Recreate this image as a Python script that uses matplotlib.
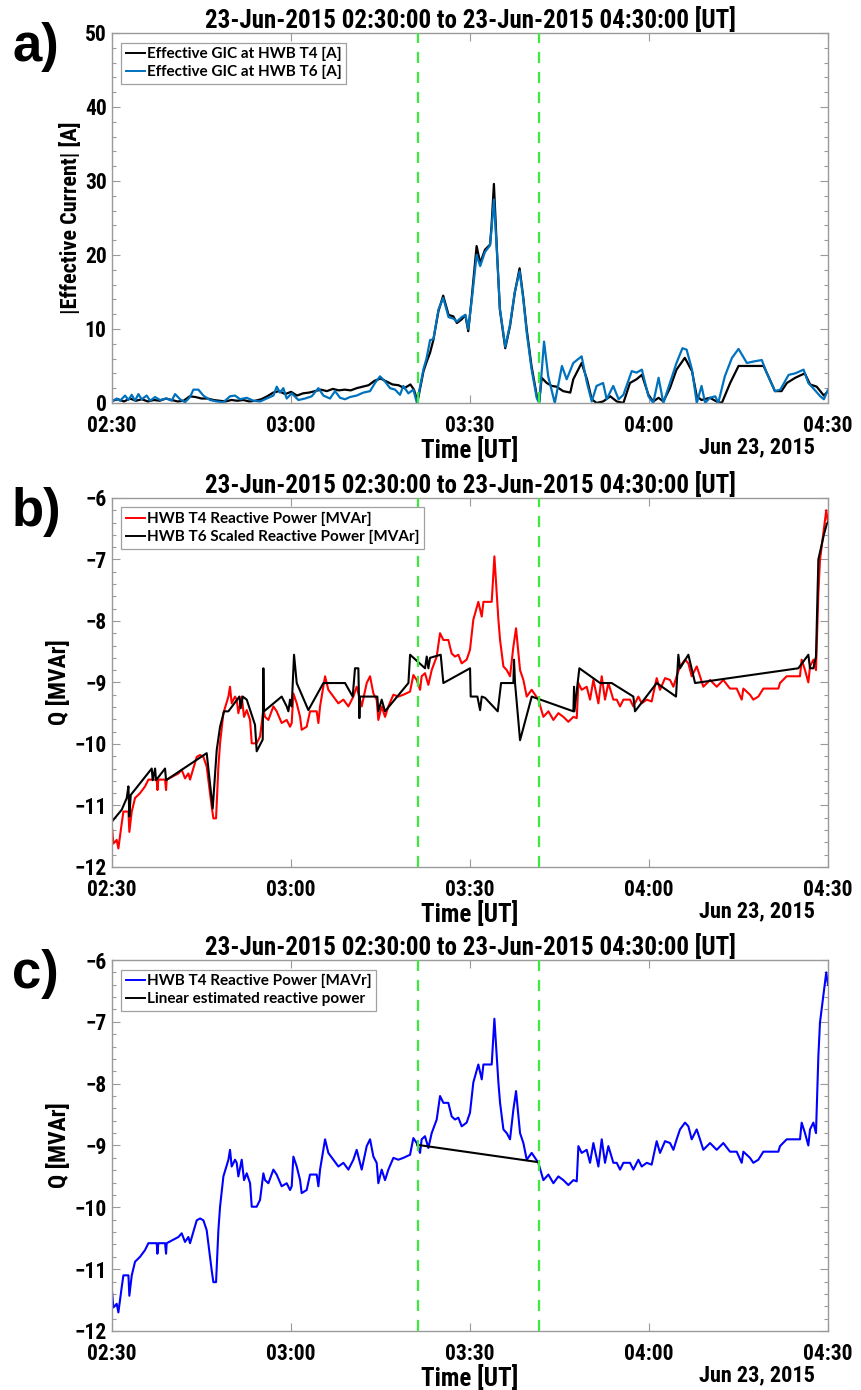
import matplotlib
matplotlib.use("Agg")
import matplotlib.pyplot as plt
import matplotlib.dates as mdates
from matplotlib import font_manager
from matplotlib.ticker import MultipleLocator
import pandas as pd

# --- fonts -----------------------------------------------------------------
_installed = {f.name for f in font_manager.fontManager.ttflist}
NARROW = next((f for f in ["Liberation Sans Narrow", "Roboto Condensed", "Roboto"] if f in _installed), "DejaVu Sans")
LEGEND_FONT = next((f for f in ["Lato", "Open Sans", "Noto Sans"] if f in _installed), "DejaVu Sans")
LETTER_FONT = "Liberation Sans" if "Liberation Sans" in _installed else "DejaVu Sans"

# --- data: minutes after 23-Jun-2015 02:30 UT ------------------------------
START = pd.Timestamp("2015-06-23 02:30:00")
END = pd.Timestamp("2015-06-23 04:30:00")
event_min = [51.25, 71.57]

gic_t4_min = [0, 1, 2, 3, 4, 5, 6, 7, 8, 9, 10, 11, 12, 13, 14, 15, 16, 17, 18, 19, 20, 21, 22, 23, 24,
              25, 26, 27, 28, 29, 30, 31, 32, 33, 34, 35, 36, 37, 38, 39, 40, 41, 42, 43, 44, 45, 46, 47,
              48, 49, 50, 50.6, 51.2, 52.2, 52.7, 53.3, 53.85, 54.7, 55.5, 56.4, 57.2, 57.8, 58.6, 59.2,
              59.7, 60.3, 61.1, 61.7, 62.5, 63.35, 63.6, 64.0, 64.5, 65.0, 65.9, 66.7, 67.5, 68.3, 68.9,
              69.5, 70.3, 71.2, 71.6, 72.0, 72.85, 73.7, 74.5, 75.6, 76.8, 77.3, 78.7, 79.6, 80.4, 81.2,
              82.3, 83.5, 84.6, 85.7, 86.8, 87.9, 88.8, 89.9, 90.7, 91.6, 92.4, 93.5, 94.6, 96.0, 97.2,
              98.0, 98.8, 100.2, 101.3, 102.2, 103.6, 105.0, 106.4, 109.2, 110.0, 111.1, 112.2, 113.1,
              114.5, 116.1, 117.0, 118.1, 119.3, 120.0]
gic_t4_amp = [0.3, 0.5, 0.2, 0.6, 0.3, 0.5, 0.2, 0.4, 0.3, 0.6, 0.4, 0.2, 0.3, 0.9, 0.8, 0.6, 0.6, 0.4,
              0.3, 0.2, 0.4, 0.3, 0.4, 0.2, 0.3, 0.5, 0.9, 1.4, 1.6, 1.2, 1.5, 1.0, 1.3, 1.4, 1.6, 1.8,
              1.6, 1.9, 1.7, 1.8, 1.7, 2.0, 2.2, 2.4, 3.0, 3.3, 2.9, 2.5, 2.4, 2.0, 2.5, 1.8, 0.2, 4.3,
              5.5, 6.8, 8.5, 12.4, 14.5, 11.9, 11.7, 10.8, 11.3, 11.9, 9.7, 14.4, 21.2, 18.9, 20.7, 21.4,
              23.9, 29.6, 20.7, 12.6, 7.4, 10.4, 14.9, 18.2, 14.4, 9.9, 5.0, 0.9, 0.2, 3.4, 2.7, 2.3,
              2.2, 1.6, 1.4, 3.2, 5.4, 3.2, 0.5, 0.0, 0.2, 0.9, 0.2, 0.0, 2.7, 3.2, 3.8, 1.1, 0.2, 0.7,
              0.2, 2.0, 4.5, 6.1, 4.3, 0.9, 0.4, 0.7, 0.2, 0.0, 2.7, 5.0, 5.0, 5.0, 3.6, 1.6, 1.6, 2.7,
              3.4, 4.0, 2.5, 2.2, 1.0, 1.6]

gic_t6_min = [0, 0.78, 1.34, 2.18, 2.74, 3.3, 3.85, 4.41, 4.97, 5.81, 6.37, 7.2, 8.04, 9.16, 10.0, 10.56,
              11.4, 12.23, 13.07, 13.63, 14.47, 15.3, 16.42, 17.54, 18.66, 19.77, 20.61, 21.45, 22.57,
              23.69, 24.8, 25.92, 27.04, 27.6, 28.15, 28.71, 29.27, 30.11, 31.23, 32.34, 33.46, 34.58,
              35.42, 36.53, 37.37, 38.21, 39.05, 39.88, 41.0, 42.12, 43.24, 44.07, 44.91, 45.75, 46.59,
              47.43, 48.26, 48.82, 49.66, 50.5, 51.1, 52.2, 52.7, 53.3, 53.85, 54.7, 55.5, 56.4, 57.2,
              57.8, 58.6, 59.2, 59.7, 60.3, 61.1, 61.7, 62.5, 63.35, 63.6, 64.0, 64.5, 65.0, 65.9, 66.7,
              67.5, 68.3, 68.9, 69.5, 70.3, 71.2, 71.6, 72.4, 73.1, 74.2, 75.4, 76.2, 77.3, 78.7, 79.6,
              80.4, 81.2, 82.3, 82.9, 84.0, 84.9, 85.7, 87.1, 87.9, 88.8, 89.9, 90.7, 91.6, 92.4, 93.5,
              94.6, 95.6, 96.3, 97.2, 98.0, 98.8, 99.4, 100.2, 101.1, 101.6, 102.7, 103.9, 105.0, 106.4,
              107.5, 108.9, 109.7, 111.1, 112.0, 113.4, 114.5, 115.9, 116.7, 117.5, 118.7, 119.3, 120.0]
gic_t6_amp = [0.2, 0.6, 0.3, 1.0, 0.4, 1.1, 0.3, 1.2, 0.5, 1.0, 0.3, 0.8, 0.4, 0.6, 0.3, 1.2, 0.5, 0.1,
              0.8, 1.8, 1.8, 1.0, 0.4, 0.2, 0.1, 0.9, 1.0, 0.5, 0.7, 0.3, 0.2, 0.6, 1.0, 2.2, 1.4, 2.0,
              0.6, 1.3, 0.4, 0.6, 0.9, 2.0, 1.0, 0.6, 1.6, 0.7, 0.5, 0.8, 1.0, 1.4, 1.6, 2.7, 3.6, 2.9,
              2.0, 1.8, 1.1, 2.3, 1.3, 1.8, 0.0, 4.6, 6.0, 8.5, 8.6, 12.6, 14.2, 11.6, 11.4, 11.0, 11.6,
              11.9, 10.0, 14.0, 20.0, 18.5, 20.4, 21.3, 23.5, 27.5, 20.5, 12.8, 7.6, 10.6, 15.0, 17.8,
              14.2, 9.5, 4.6, 0.6, 0.0, 8.3, 3.6, 0.0, 5.0, 3.2, 5.4, 6.3, 2.7, 0.2, 2.3, 2.7, 0.5, 2.3,
              0.5, 1.1, 4.3, 4.1, 4.5, 0.9, 0.0, 3.4, 0.0, 2.7, 5.4, 7.4, 7.2, 4.5, 0.0, 2.3, 0.0, 0.7,
              0.9, 0.0, 3.6, 6.1, 7.3, 5.4, 5.6, 5.8, 4.1, 1.6, 1.8, 3.8, 4.0, 4.5, 2.7, 2.0, 0.9, 0.5,
              1.8]

q_t4_min = [0.0, 0.22, 0.78, 1.06, 1.62, 1.90, 2.74, 2.90, 3.30, 3.85, 4.69, 5.53, 6.09, 7.49, 7.60,
            7.76, 8.88, 9.05, 9.16, 11.12, 11.67, 12.23, 12.79, 13.07, 14.19, 14.75, 15.31, 15.86,
            16.70, 16.98, 17.43, 17.82, 18.10, 18.66, 19.50, 19.77, 20.05, 20.61, 20.89, 21.17, 21.73,
            22.12, 22.57, 23.13, 23.41, 24.24, 24.80, 25.36, 25.64, 26.20, 27.04, 27.59, 28.43, 29.27,
            29.83, 30.11, 30.39, 30.95, 31.51, 31.78, 32.62, 33.18, 34.30, 34.58, 34.86, 35.70, 36.25,
            37.09, 37.93, 38.77, 39.61, 40.44, 41.00, 41.84, 42.68, 43.24, 43.80, 44.35, 44.63, 45.19,
            45.75, 46.31, 47.15, 47.98, 48.82, 49.94, 50.50, 51.06, 51.62, 51.89, 52.45, 53.01, 53.57,
            54.41, 54.97, 55.53, 56.36, 56.92, 57.48, 58.04, 58.60, 59.43, 59.99, 60.55, 61.39, 61.96,
            62.24, 63.63, 64.08, 64.75, 65.03, 65.59, 66.15, 66.70, 67.26, 67.71, 68.38, 68.94, 69.50,
            70.33, 71.45, 72.29, 73.13, 73.97, 74.80, 75.64, 76.48, 77.32, 77.88, 78.16, 78.71, 79.55,
            80.11, 80.67, 81.51, 82.07, 82.62, 83.18, 84.02, 84.58, 85.14, 85.70, 86.81, 87.37, 88.21,
            88.77, 89.61, 90.44, 91.28, 91.84, 92.68, 93.52, 94.08, 94.63, 95.19, 96.03, 96.59, 97.15,
            97.99, 98.54, 99.10, 100.22, 101.34, 102.45, 103.57, 104.69, 105.53, 105.81, 106.92, 107.48,
            108.32, 109.16, 110.27, 111.67, 111.95, 113.07, 115.30, 115.58, 116.14, 116.70, 116.98,
            117.54, 117.98, 118.38, 118.65, 119.30, 119.70, 120.0]
q_t4_mvar = [-11.37, -11.62, -11.56, -11.70, -11.29, -11.10, -11.10, -11.43, -11.10, -10.88, -10.80,
             -10.69, -10.58, -10.58, -10.75, -10.58, -10.58, -10.75, -10.58, -10.48, -10.42, -10.56,
             -10.48, -10.58, -10.21, -10.18, -10.21, -10.37, -11.02, -11.21, -11.21, -10.37, -9.99,
             -9.50, -9.23, -9.07, -9.34, -9.23, -9.28, -9.50, -9.23, -9.56, -9.45, -9.61, -9.99, -9.99,
             -9.88, -9.45, -9.56, -9.61, -9.39, -9.47, -9.66, -9.61, -9.72, -9.66, -9.18, -9.34, -9.56,
             -9.77, -9.72, -9.47, -9.47, -9.66, -9.39, -8.90, -9.12, -9.23, -9.34, -9.28, -9.39, -9.23,
             -9.07, -9.39, -9.01, -8.90, -9.18, -9.28, -9.61, -9.39, -9.56, -9.39, -9.20, -9.23, -9.20,
             -9.15, -8.88, -8.96, -9.12, -8.90, -8.85, -9.04, -8.80, -8.58, -8.20, -8.31, -8.31, -8.53,
             -8.58, -8.55, -8.69, -8.63, -8.47, -7.98, -7.69, -7.93, -7.69, -7.69, -6.95, -7.98, -8.31,
             -8.74, -8.80, -8.90, -8.42, -8.12, -8.80, -8.96, -9.23, -9.12, -9.28, -9.56, -9.47, -9.61,
             -9.50, -9.56, -9.64, -9.56, -9.58, -9.01, -9.12, -9.07, -9.28, -8.96, -9.34, -8.90, -9.28,
             -9.01, -9.28, -9.28, -9.39, -9.28, -9.28, -9.39, -9.23, -9.34, -9.28, -9.31, -8.93, -9.12,
             -8.93, -8.96, -9.07, -8.90, -8.74, -8.63, -8.69, -8.90, -8.74, -8.90, -9.07, -8.96, -9.07,
             -8.96, -9.10, -9.10, -9.28, -9.10, -9.20, -9.28, -9.23, -9.10, -9.10, -9.10, -9.01, -8.90,
             -8.90, -8.63, -8.80, -9.00, -8.74, -8.63, -8.80, -7.55, -7.01, -6.50, -6.20, -6.40]

q_t6_min = [0.0, 1.62, 2.46, 2.74, 2.90, 3.13, 6.65, 6.81, 7.21, 7.37, 8.88, 9.05, 15.86, 16.87, 17.54,
            18.10, 18.77, 19.50, 21.34, 21.56, 21.90, 22.57, 23.96, 24.24, 25.25, 25.36, 25.47, 28.43,
            29.27, 29.55, 29.83, 30.11, 30.50, 30.95, 32.90, 35.42, 39.05, 40.33, 40.72, 41.28, 41.45,
            41.56, 44.46, 44.63, 45.19, 45.75, 49.67, 49.95, 52.46, 52.74, 53.02, 53.29, 55.08, 55.53,
            60.00, 60.11, 61.23, 61.68, 61.96, 62.51, 64.64, 65.20, 67.26, 67.37, 67.54, 68.38, 70.34,
            77.32, 77.43, 77.49, 78.32, 81.79, 83.74, 87.37, 87.65, 91.28, 94.52, 94.91, 95.19, 96.59,
            97.71, 115.02, 116.70, 116.98, 117.54, 117.98, 118.38, 119.30, 119.80, 120.0]
q_t6_mvar = [-11.26, -11.07, -10.88, -10.69, -11.18, -10.83, -10.40, -10.59, -10.40, -10.59, -10.40,
             -10.59, -10.15, -11.05, -10.10, -9.72, -9.47, -9.47, -9.23, -9.42, -9.23, -9.28, -9.69,
             -10.12, -9.93, -8.77, -9.47, -9.23, -9.39, -9.47, -9.28, -9.39, -8.55, -9.01, -9.45, -9.01,
             -9.01, -9.23, -8.77, -8.77, -9.58, -9.23, -9.23, -9.47, -9.28, -9.47, -9.01, -8.55, -8.77,
             -8.58, -8.77, -8.60, -8.55, -9.01, -8.77, -9.23, -9.23, -9.45, -9.23, -9.25, -9.47, -9.01,
             -9.01, -8.63, -9.01, -9.94, -9.23, -9.47, -9.07, -9.47, -8.77, -9.01, -9.01, -9.23, -9.47,
             -9.01, -9.23, -8.55, -8.77, -8.55, -9.01, -8.77, -8.55, -8.77, -8.77, -8.58, -7.00, -6.60,
             -6.42, -6.40]

q_lin_min = [51.2, 71.5]
q_lin_mvar = [-8.99, -9.27]

TITLE = "23-Jun-2015 02:30:00 to 23-Jun-2015 04:30:00 [UT]"

AXIS_GREY = "#9a9a9a"
EVENT_GREEN = "#3ee83e"


def to_time(minutes):
    return START + pd.to_timedelta(minutes, unit="min")


def style_axes(ax, ylim, major, minor):
    ax.set_xlim(START, END)
    ax.set_ylim(*ylim)
    ax.xaxis.set_major_locator(mdates.MinuteLocator(byminute=[0, 30]))
    ax.xaxis.set_major_formatter(mdates.DateFormatter("%H:%M"))
    ax.yaxis.set_major_locator(MultipleLocator(major))
    ax.yaxis.set_minor_locator(MultipleLocator(minor))
    ax.tick_params(which="both", direction="in", top=True, right=True, color=AXIS_GREY)
    ax.tick_params(which="major", length=5.5, width=0.8)
    ax.tick_params(which="minor", length=3.2, width=0.8)
    ax.tick_params(axis="x", pad=9)
    ax.tick_params(axis="y", pad=4)
    for lab in ax.get_xticklabels() + ax.get_yticklabels():
        lab.set_fontfamily(NARROW)
        lab.set_fontweight("bold")
        lab.set_fontsize(15.5)
    for sp in ax.spines.values():
        sp.set_color(AXIS_GREY)
        sp.set_linewidth(1.0)
    ax.set_title(TITLE, fontfamily=NARROW, fontweight="bold", fontsize=18, pad=3)
    ax.set_xlabel("Time [UT]", fontfamily=NARROW, fontweight="bold", fontsize=18, labelpad=0)
    ax.text(0.982, -0.12, "Jun 23, 2015", transform=ax.transAxes, ha="right", va="center",
            fontfamily=NARROW, fontweight="bold", fontsize=16)
    for m in event_min:
        ax.axvline(to_time(m), color=EVENT_GREEN, ls=(0, (5, 4)), lw=1.6, zorder=3)


def add_legend(ax):
    leg = ax.legend(loc="upper left", bbox_to_anchor=(0.0126, 0.974), borderaxespad=0,
                    fancybox=False, framealpha=1, edgecolor="#a0a0a0", handlelength=1.25,
                    handletextpad=0.15, borderpad=0.3, labelspacing=0.25,
                    prop={"family": LEGEND_FONT, "weight": "bold", "size": 11})
    leg.get_frame().set_linewidth(0.9)
    for line in leg.get_lines():
        line.set_linewidth(1.4)


def panel_letter(fig, ax, letter):
    box = ax.get_position()
    fig.text(0.014, box.y1 - 28 / 1390, letter, fontfamily=LETTER_FONT, fontweight="bold",
             fontsize=38, va="baseline", ha="left")


fig = plt.figure(figsize=(8.62, 13.90), dpi=100)
ax_a = fig.add_axes([0.130, 0.7101, 0.8306, 0.2662])
ax_b = fig.add_axes([0.130, 0.3763, 0.8306, 0.2655])
ax_c = fig.add_axes([0.130, 0.04245, 0.8306, 0.2669])

# a) effective GIC magnitude
ax_a.plot(to_time(gic_t4_min), gic_t4_amp, color="black", lw=1.6, label="Effective GIC at HWB T4 [A]")
ax_a.plot(to_time(gic_t6_min), gic_t6_amp, color="#0072bd", lw=1.6, label="Effective GIC at HWB T6 [A]")
style_axes(ax_a, (0, 50), 10, 2)
ax_a.set_ylabel("|Effective Current| [A]", fontfamily=NARROW, fontweight="bold", fontsize=16, labelpad=2)
add_legend(ax_a)

# b) measured vs scaled reactive power
ax_b.plot(to_time(q_t4_min), q_t4_mvar, color="#ff0000", lw=1.5, label="HWB T4 Reactive Power [MVAr]")
ax_b.plot(to_time(q_t6_min), q_t6_mvar, color="black", lw=1.5, label="HWB T6 Scaled Reactive Power [MVAr]")
style_axes(ax_b, (-12, -6), 1, 0.2)
ax_b.set_ylabel("Q [MVAr]", fontfamily=NARROW, fontweight="bold", fontsize=17, labelpad=2)
add_legend(ax_b)

# c) measured reactive power with linear estimate across the event
ax_c.plot(to_time(q_t4_min), q_t4_mvar, color="#0000ff", lw=1.5, label="HWB T4 Reactive Power [MAVr]")
ax_c.plot(to_time(q_lin_min), q_lin_mvar, color="black", lw=1.5, label="Linear estimated reactive power")
style_axes(ax_c, (-12, -6), 1, 0.2)
ax_c.set_ylabel("Q [MVAr]", fontfamily=NARROW, fontweight="bold", fontsize=17, labelpad=2)
add_legend(ax_c)

for ax, letter in [(ax_a, "a)"), (ax_b, "b)"), (ax_c, "c)")]:
    panel_letter(fig, ax, letter)

fig.savefig("out.png", dpi=100)
